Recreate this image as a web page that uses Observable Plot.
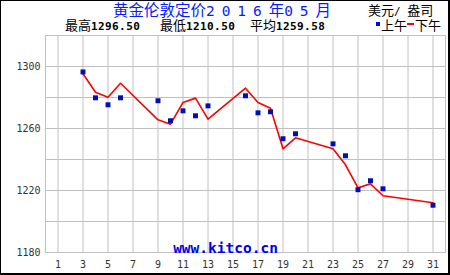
<!DOCTYPE html>
<html><head><meta charset="utf-8">
<script src="https://cdn.jsdelivr.net/npm/d3@7"></script>
<script src="https://cdn.jsdelivr.net/npm/@observablehq/plot@0.6"></script>
<style>
html,body{margin:0;padding:0;background:#fff;}
#wrap{position:relative;width:450px;height:275px;overflow:hidden;background:#fff;}
#wrap svg{position:absolute;left:0;top:0;}
#border{position:absolute;left:0;top:0;width:450px;height:275px;box-sizing:border-box;border-style:solid;border-color:#000;border-width:1px 2px 2px 1px;pointer-events:none;}
</style></head><body>
<div id="wrap"></div>
<script>
// ---- data ----
const days     = [3, 4, 5, 6, 9, 10, 11, 12, 13, 16, 17, 18, 19, 20, 23, 24, 25, 26, 27, 31];
const amPrices = [1296.5, 1279.8, 1275.3, 1279.8, 1277.9, 1265.0, 1271.4, 1268.2, 1274.6, 1281.1,
                  1270.1, 1270.8, 1253.4, 1256.6, 1250.1, 1242.4, 1220.5, 1226.3, 1221.1, 1210.5];
const pmPrices = [1295.3, 1283.4, 1280.2, 1289.2, 1265.6, 1262.8, 1276.8, 1279.6, 1266.0, 1286.0,
                  1276.8, 1273.1, 1246.9, 1254.0, 1246.9, 1236.6, 1221.7, 1224.3, 1216.6, 1212.1];
const xTicks = [1, 3, 5, 7, 9, 11, 13, 15, 17, 19, 21, 23, 25, 27, 29, 31];
const yTicks = [1180, 1220, 1260, 1300];
const yGrid  = [1180, 1200, 1220, 1240, 1260, 1280, 1300, 1320];
const titleParts = ["黄金伦敦定价", "2 0 1 6 ", "年", "0 5 ", "月"];
const unitParts  = ["美元", "/ ", "盎司"];
const statLabels = ["最高", "最低", "平均"];
const statValues = ["1296.50", "1210.50", "1259.58"];
const legendLabels = ["上午", "下午"];
const watermark = "www.kitco.cn";

const amData = days.map((d, i) => ({day: d, price: amPrices[i]}));
const pmData = days.map((d, i) => ({day: d, price: pmPrices[i]}));

const CJK = '"Noto Sans CJK SC", sans-serif';
const MONO = '"DejaVu Sans Mono", monospace';

const chart = Plot.plot({
  width: 450, height: 275,
  marginLeft: 45, marginRight: 5, marginTop: 35, marginBottom: 23,
  style: {fontFamily: MONO, fontSize: "10px", color: "#333", background: "transparent"},
  x: {domain: [0, 32], ticks: xTicks, tickSize: 0, tickPadding: 8, label: null, tickFormat: d => String(d)},
  y: {domain: [1180, 1320], ticks: yTicks, tickSize: 0, tickPadding: 5, label: null, tickFormat: d => String(d)},
  marks: [
    Plot.ruleY(yGrid, {stroke: "#c0c0c0", strokeOpacity: 1}),
    Plot.ruleX(xTicks, {stroke: "#c0c0c0", strokeOpacity: 1}),
    Plot.frame({stroke: "#c0c0c0"}),
    Plot.text([watermark], {frameAnchor: "bottom", lineAnchor: "bottom", dx: -20, dy: 0,
      fill: "#0000ee", fontSize: 14.5, fontWeight: "bold", fontFamily: MONO}),
    Plot.line(pmData, {x: "day", y: "price", stroke: "#ff0000", strokeWidth: 1.6}),
    Plot.dot(amData, {x: "day", y: "price", symbol: "square", r: 2.8, fill: "#0010b0", stroke: "none"})
  ]
});

const wrap = document.getElementById("wrap");
wrap.appendChild(chart);

// ---- header texts ----
const hdr = d3.create("svg").attr("width", 450).attr("height", 40)
  .style("position", "absolute").style("left", "0px").style("top", "0px")
  .style("white-space", "pre");

// title
const t = hdr.append("text").attr("x", 113).attr("y", 16).attr("fill", "#0a1aff");
titleParts.forEach((s, i) => {
  const isMono = (i === 1 || i === 3);
  const ts = t.append("tspan").text(s)
    .attr("font-family", isMono ? MONO : CJK)
    .attr("font-size", isMono ? 14.5 : 15.5);
  if (isMono) ts.attr("letter-spacing", -0.9);
});

// unit
const u = hdr.append("text").attr("x", 368).attr("y", 15).attr("fill", "#000");
unitParts.forEach((s, i) => {
  u.append("tspan").text(s)
    .attr("font-family", i === 1 ? MONO : CJK)
    .attr("font-size", i === 1 ? 11 : 13);
});

// stats
const statX = [65, 160, 250];
statLabels.forEach((lab, i) => {
  const s = hdr.append("text").attr("x", statX[i]).attr("y", 30).attr("fill", "#000");
  s.append("tspan").text(lab).attr("font-family", CJK).attr("font-size", 13);
  s.append("tspan").text(statValues[i]).attr("font-family", MONO).attr("font-size", 11)
    .attr("font-weight", "bold").attr("letter-spacing", 0.4);
});

// legend
hdr.append("rect").attr("x", 376).attr("y", 22).attr("width", 4).attr("height", 4).attr("fill", "#0000ff");
hdr.append("text").attr("x", 381).attr("y", 30).attr("font-family", CJK).attr("font-size", 13).text(legendLabels[0]);
hdr.append("rect").attr("x", 407).attr("y", 23).attr("width", 7).attr("height", 2).attr("fill", "#ff0000");
hdr.append("text").attr("x", 415).attr("y", 30).attr("font-family", CJK).attr("font-size", 13).text(legendLabels[1]);

wrap.appendChild(hdr.node());

const border = document.createElement("div");
border.id = "border";
wrap.appendChild(border);
</script>
</body></html>
